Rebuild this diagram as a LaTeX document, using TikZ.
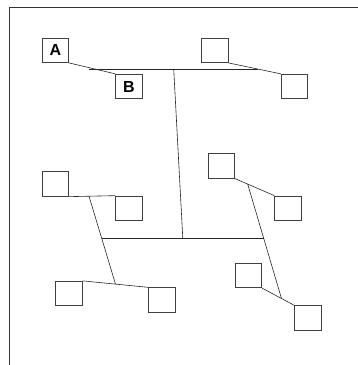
\documentclass[tikz,border=0pt]{standalone}
\usepackage{fontspec}
\setmainfont{Liberation Sans}
\usetikzlibrary{calc}

\tikzset{
  blk/.style={draw=black!75, line width=0.8pt, minimum width=26.5pt, minimum height=24.5pt,
    inner sep=0pt, font=\fontsize{16}{16}\selectfont\bfseries},
  link/.style={line width=0.6pt, black!85},
}

\begin{document}
\begin{tikzpicture}[x=1pt, y=-1pt]
    \useasboundingbox (0,0) rectangle (358,365);

    % Frame
    \draw[line width=0.9pt, black!80] (9,365) -- (9,7) -- (358,7);

    % Top pairs
    \node[blk] (A) at (55.5,50.3) {A};
    \node[blk] (B) at (129,86.5) {B};
    \node[blk] (C) at (215,50.3) {};
    \node[blk] (D) at (294.5,86.5) {};
    \draw[link] (A.south east) -- coordinate[pos=0.43] (ab) (B.north west);
    \draw[link] (C.south east) -- coordinate[pos=0.57] (cd) (D.north west);

    % Middle pairs
    \node[blk] (E) at (55.5,184) {};
    \node[blk] (F) at (129,208.3) {};
    \node[blk] (G) at (221.5,166) {};
    \node[blk] (H) at (288,208.3) {};
    \draw[link] (E.south east) -- coordinate[pos=0.43] (ef) (F.north west);
    \draw[link] (G.south east) -- coordinate[pos=0.32] (gh) (H.north west);

    % Bottom pairs
    \node[blk] (I) at (69,293.5) {};
    \node[blk] (J) at (162,300) {};
    \node[blk] (K) at (248.5,275.5) {};
    \node[blk] (L) at (308,318) {};
    \draw[link] (I.north east) -- coordinate[pos=0.5] (ij) (J.north west);
    \draw[link] (K.south east) -- coordinate[pos=0.6] (kl) (L.north west);

    % Joining bars
    \draw[link] (ab |- 0,69) -- coordinate (top) (cd |- 0,69);
    \draw[link] (ef) -- coordinate[pos=0.483] (lft) (ij);
    \draw[link] (gh) -- coordinate[pos=0.478] (rgt) (kl);
    \draw[link] (lft) -- coordinate (bot) (rgt |- lft);
    \draw[link] (top) -- (bot);
\end{tikzpicture}
\end{document}
